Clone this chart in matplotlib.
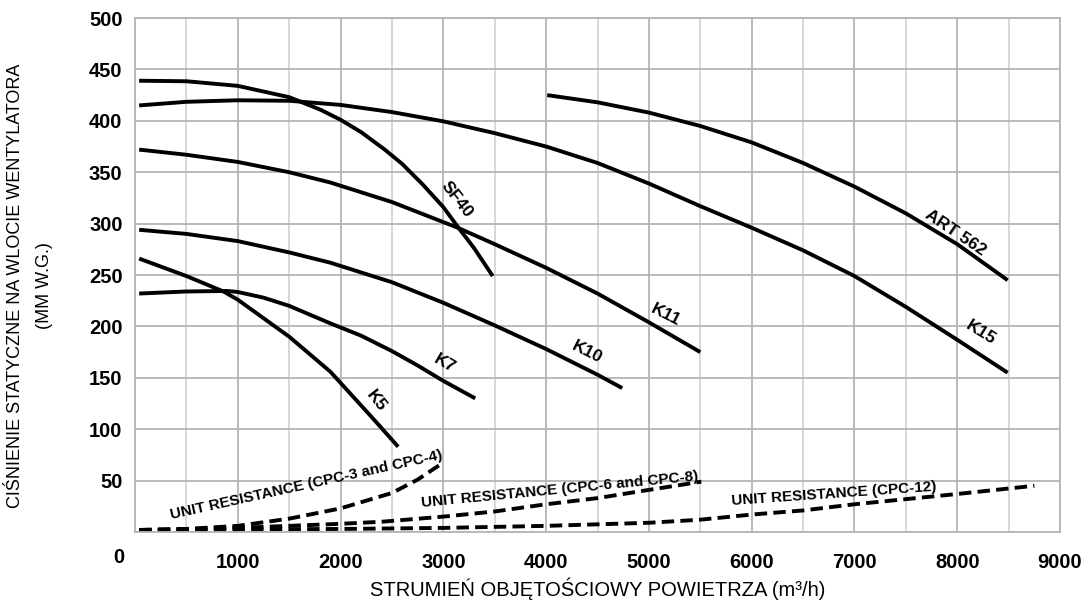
import matplotlib.pyplot as plt
from matplotlib.ticker import MultipleLocator

plt.rcParams['font.family'] = ['Liberation Sans', 'DejaVu Sans']

# fan curves (flow m3/h, static pressure mm w.g.)
sf40_x = [40, 500, 1000, 1500, 1800, 2000, 2200, 2430, 2600, 2800, 3000, 3140, 3300, 3480]
sf40_y = [439, 438.5, 434, 423, 411, 401, 389, 372, 358, 338, 316, 297, 276, 249]

k15_x = [40, 500, 1000, 1500, 2000, 2500, 3000, 3500, 4000, 4500, 5000, 5500, 6000, 6500, 7000, 7500, 8000, 8490]
k15_y = [415, 418.5, 420, 419.5, 415.5, 408.5, 399.5, 388, 375, 359, 339, 317, 296, 274, 249, 219, 187, 155]

art_x = [4010, 4500, 5000, 5500, 6000, 6500, 7000, 7500, 8000, 8490]
art_y = [425, 418, 408, 395, 379, 359, 336, 310, 280, 245]

k11_x = [40, 500, 1000, 1500, 1900, 2500, 3140, 3500, 4000, 4500, 5000, 5500]
k11_y = [372, 367, 360, 350, 340, 321, 296, 280, 257, 232, 204, 175]

k10_x = [40, 500, 1000, 1500, 1900, 2500, 3000, 3500, 4000, 4500, 4740]
k10_y = [294, 290, 283, 272, 262, 243, 223, 201, 178, 153, 140]

k7_x = [40, 500, 900, 1000, 1250, 1500, 1900, 2200, 2500, 2750, 3000, 3310]
k7_y = [232, 234, 234.5, 233.5, 228, 220, 203, 191, 176, 162, 147, 130]

k5_x = [40, 500, 860, 1000, 1500, 1900, 2310, 2560]
k5_y = [266, 249, 234, 226, 190, 156, 111, 83]

# unit resistance lines
r34_x = [40, 500, 1000, 1500, 2000, 2500, 2750, 2990]
r34_y = [2, 3, 6, 13, 23, 38, 51, 67]

r68_x = [40, 1000, 2000, 2400, 3000, 3500, 4000, 4500, 5000, 5510]
r68_y = [2, 4, 8, 10, 15, 20, 27, 33, 41, 49]

r12_x = [40, 2000, 3000, 4000, 5000, 5500, 6000, 6500, 7000, 7500, 8000, 8750]
r12_y = [2, 3, 4, 6, 9, 12, 17, 21, 27, 32, 37, 45]

curves = [(sf40_x, sf40_y), (k15_x, k15_y), (art_x, art_y), (k11_x, k11_y),
          (k10_x, k10_y), (k7_x, k7_y), (k5_x, k5_y)]
resist = [(r34_x, r34_y), (r68_x, r68_y), (r12_x, r12_y)]

# labels: text, x, y, rotation
curve_labels = [('SF40', 3130, 323, -52), ('K5', 2350, 127, -52), ('K7', 3010, 164, -30),
                ('K10', 4400, 175, -27), ('K11', 5160, 211, -27), ('K15', 8230, 194, -32),
                ('ART 562', 7980, 291, -34)]
resist_labels = [('UNIT RESISTANCE (CPC-3 and CPC-4)', 1670, 46, 12.5),
                 ('UNIT RESISTANCE (CPC-6 and CPC-8)', 4134, 41, 5.5),
                 ('UNIT RESISTANCE (CPC-12)', 6800, 37, 4)]

fig = plt.figure(figsize=(10.89, 6.03), dpi=100)
ax = fig.add_axes([0.124, 0.1177, 0.8494, 0.8524])

for x, y in curves:
    ax.plot(x, y, color='black', lw=2.8, solid_capstyle='butt', solid_joinstyle='round')
for x, y in resist:
    ax.plot(x, y, color='black', lw=2.8, dashes=(3.2, 1.6))

for t, x, y, r in curve_labels:
    ax.text(x, y, t, rotation=r, ha='center', va='center', fontsize=12.5,
            fontweight='bold', rotation_mode='anchor')
for t, x, y, r in resist_labels:
    ax.text(x, y, t, rotation=r, ha='center', va='center', fontsize=11,
            fontweight='bold', rotation_mode='anchor')

ax.set_xlim(0, 9000)
ax.set_ylim(0, 500)
ax.xaxis.set_major_locator(MultipleLocator(1000))
ax.xaxis.set_minor_locator(MultipleLocator(500))
ax.yaxis.set_major_locator(MultipleLocator(100))
ax.yaxis.set_minor_locator(MultipleLocator(50))
ax.grid(which='major', color='#b4b4b4', lw=1.3)
ax.grid(which='minor', color='#cdcdcd', lw=1.1)
ax.set_axisbelow(True)
for s in ax.spines.values():
    s.set_color('#b4b4b4')
    s.set_linewidth(1.3)

ax.set_xticks(range(1000, 9001, 1000))
ax.set_xticklabels([str(v) for v in range(1000, 9001, 1000)], fontsize=14.5, fontweight='bold')
ax.set_yticks(range(50, 501, 50))
ax.set_yticklabels([str(v) for v in range(50, 501, 50)], fontsize=14.5, fontweight='bold')
ax.tick_params(which='both', length=0)
ax.tick_params(axis='x', pad=15)
ax.tick_params(axis='y', pad=9)
ax.text(-0.018, -0.05, '0', transform=ax.transAxes, ha='center', va='center',
        fontsize=14.5, fontweight='bold')

ax.set_xlabel('STRUMIEŃ OBJĘTOŚCIOWY POWIETRZA (m³/h)', fontsize=14.5, labelpad=4)
fig.text(0.014, 0.526, 'CIŚNIENIE STATYCZNE NA WLOCIE WENTYLATORA', rotation=90,
         ha='center', va='center', fontsize=13)
fig.text(0.041, 0.526, '(MM W.G.)', rotation=90, ha='center', va='center', fontsize=13)

plt.savefig('out.png', dpi=100)
